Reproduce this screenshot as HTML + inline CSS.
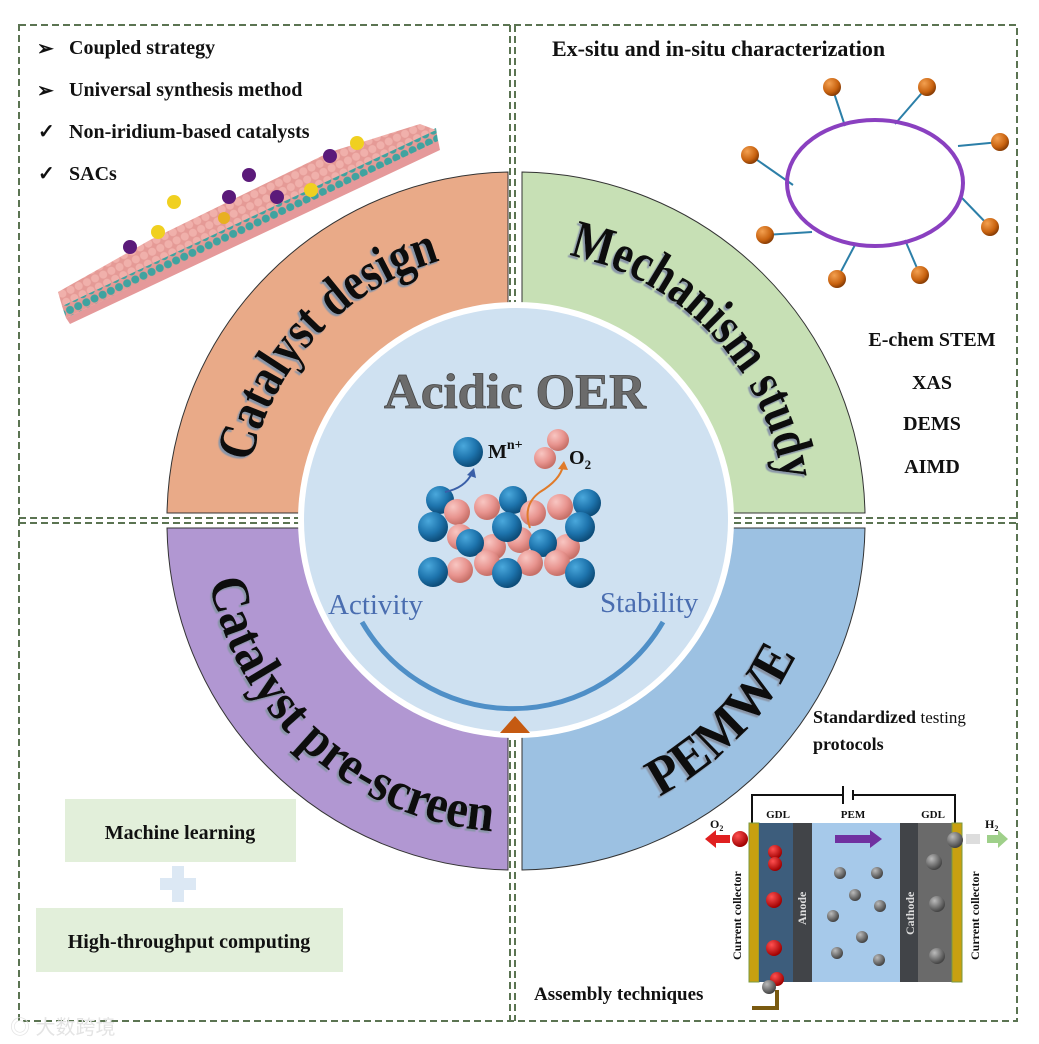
<!DOCTYPE html>
<html><head><meta charset="utf-8"><style>
html,body{margin:0;padding:0;background:#fff;}
svg{display:block;}
.b{font-family:"Liberation Serif",serif;font-weight:bold;}
</style></head><body>
<svg width="1039" height="1044" viewBox="0 0 1039 1044" xmlns="http://www.w3.org/2000/svg">
<defs>
<radialGradient id="gb" cx="35%" cy="30%" r="70%"><stop offset="0" stop-color="#4aa8dc"/><stop offset="0.6" stop-color="#1e74ad"/><stop offset="1" stop-color="#0d4d7a"/></radialGradient>
<radialGradient id="gp" cx="35%" cy="30%" r="70%"><stop offset="0" stop-color="#f8c6c2"/><stop offset="0.6" stop-color="#e8948f"/><stop offset="1" stop-color="#c77068"/></radialGradient>
<radialGradient id="go" cx="35%" cy="30%" r="70%"><stop offset="0" stop-color="#f3a050"/><stop offset="0.7" stop-color="#c8620f"/><stop offset="1" stop-color="#8a3e05"/></radialGradient>
<radialGradient id="gr" cx="35%" cy="30%" r="70%"><stop offset="0" stop-color="#ff5050"/><stop offset="1" stop-color="#a00000"/></radialGradient>
<radialGradient id="gg" cx="35%" cy="30%" r="70%"><stop offset="0" stop-color="#bbb"/><stop offset="1" stop-color="#444"/></radialGradient>
<pattern id="pk" width="9" height="9" patternUnits="userSpaceOnUse" patternTransform="rotate(-25)"><rect width="9" height="9" fill="#e59a96"/><circle cx="4.5" cy="4.5" r="4" fill="#f0b0ab"/></pattern>
<pattern id="tl" width="9" height="9" patternUnits="userSpaceOnUse" patternTransform="rotate(-25)"><rect width="9" height="9" fill="#e59a96"/><circle cx="4.5" cy="4.5" r="4" fill="#3fa3a0"/></pattern>
<filter id="sh" x="-10%" y="-10%" width="120%" height="120%"><feDropShadow dx="-2" dy="2" stdDeviation="0.6" flood-color="#8a96a8"/></filter>
<path id="up" d="M245,520 A270,270 0 0 1 785,520"/>
<path id="dn" d="M203,520 A312,312 0 0 0 827,520"/>
</defs>

<g fill="none" stroke="#5b7452" stroke-width="2" stroke-dasharray="7,4">
<rect x="19" y="25" width="998" height="996"/>
<line x1="510" y1="25" x2="510" y2="1021"/>
<line x1="515" y1="25" x2="515" y2="1021"/>
<line x1="19" y1="518" x2="1017" y2="518"/>
<line x1="19" y1="523" x2="1017" y2="523"/>
</g>

<g stroke="#333" stroke-width="1">
<path d="M508,172 A348,348 0 0 0 167,513 L300,513 A215,215 0 0 1 508,305 Z" fill="#e9aa88"/>
<path d="M522,172 A348,348 0 0 1 865,513 L733,513 A215,215 0 0 0 522,305 Z" fill="#c7e0b5"/>
<path d="M167,528 A348,348 0 0 0 508,870 L508,735 A215,215 0 0 1 300,528 Z" fill="#b197d2"/>
<path d="M865,528 A348,348 0 0 1 522,870 L522,735 A215,215 0 0 0 733,528 Z" fill="#9cc1e2"/>
</g>
<circle cx="516" cy="520" r="218" fill="#fff"/>
<circle cx="516" cy="520" r="212" fill="#cfe1f1"/>

<g class="b" font-size="54" fill="#111" filter="url(#sh)">
<text><textPath href="#up" startOffset="58" textLength="290" lengthAdjust="spacingAndGlyphs">Catalyst design</textPath></text>
<text><textPath href="#up" startOffset="478" textLength="330" lengthAdjust="spacingAndGlyphs">Mechanism study</textPath></text>
<text><textPath href="#dn" startOffset="62" textLength="405" lengthAdjust="spacingAndGlyphs">Catalyst pre-screen</textPath></text>
<text><textPath href="#dn" startOffset="640" textLength="200" lengthAdjust="spacingAndGlyphs">PEMWE</textPath></text>
</g>

<text x="515" y="408" text-anchor="middle" class="b" font-size="50" fill="#6b6b6b" stroke="#444" stroke-width="0.8" textLength="262" lengthAdjust="spacingAndGlyphs">Acidic OER</text>
<g>
<circle cx="440" cy="500" r="14" fill="url(#gb)"/><circle cx="513" cy="500" r="14" fill="url(#gb)"/><circle cx="587" cy="503" r="14" fill="url(#gb)"/>
<circle cx="457" cy="512" r="13" fill="url(#gp)"/><circle cx="487" cy="507" r="13" fill="url(#gp)"/><circle cx="533" cy="513" r="13" fill="url(#gp)"/><circle cx="560" cy="507" r="13" fill="url(#gp)"/>
<circle cx="460" cy="537" r="13" fill="url(#gp)"/><circle cx="493" cy="547" r="13" fill="url(#gp)"/><circle cx="567" cy="547" r="13" fill="url(#gp)"/><circle cx="520" cy="540" r="13" fill="url(#gp)"/>
<circle cx="470" cy="543" r="14" fill="url(#gb)"/><circle cx="543" cy="543" r="14" fill="url(#gb)"/>
<circle cx="460" cy="570" r="13" fill="url(#gp)"/><circle cx="487" cy="563" r="13" fill="url(#gp)"/><circle cx="530" cy="563" r="13" fill="url(#gp)"/><circle cx="557" cy="563" r="13" fill="url(#gp)"/>
<circle cx="433" cy="527" r="15" fill="url(#gb)"/><circle cx="507" cy="527" r="15" fill="url(#gb)"/><circle cx="580" cy="527" r="15" fill="url(#gb)"/>
<circle cx="433" cy="572" r="15" fill="url(#gb)"/><circle cx="507" cy="573" r="15" fill="url(#gb)"/><circle cx="580" cy="573" r="15" fill="url(#gb)"/>
<circle cx="468" cy="452" r="15" fill="url(#gb)"/>
<circle cx="558" cy="440" r="11" fill="url(#gp)"/><circle cx="545" cy="458" r="11" fill="url(#gp)"/>
<path d="M445,492 Q465,488 472,473" fill="none" stroke="#3a5fa8" stroke-width="2"/><path d="M467,475 L474,468 L476,478 Z" fill="#3a5fa8"/>
<path d="M530,528 Q522,505 540,492 Q560,480 563,466" fill="none" stroke="#e07b2a" stroke-width="2"/><path d="M558,469 L564,461 L568,470 Z" fill="#e07b2a"/>
</g>
<text x="488" y="458" class="b" font-size="20" fill="#111">M<tspan font-size="14" dy="-9">n+</tspan></text>
<text x="569" y="464" class="b" font-size="20" fill="#111">O<tspan font-size="13" dy="5">2</tspan></text>
<text x="328" y="614" font-family="Liberation Serif,serif" font-size="29" fill="#4a6db0">Activity</text>
<text x="600" y="612" font-family="Liberation Serif,serif" font-size="29" fill="#4a6db0">Stability</text>
<path d="M362,622 A174,174 0 0 0 663,622" fill="none" stroke="#4f8fc7" stroke-width="5"/>
<path d="M515,716 L500,733 L530,733 Z" fill="#c55a11"/>

<g class="b" font-size="20" fill="#111">
<text x="37" y="55" font-size="20">➢</text><text x="69" y="54">Coupled strategy</text>
<text x="37" y="97" font-size="20">➢</text><text x="69" y="96">Universal synthesis method</text>
<text x="38" y="138">✓</text><text x="69" y="138">Non-iridium-based catalysts</text>
<text x="38" y="180">✓</text><text x="69" y="180">SACs</text>
</g>
<polygon points="66,318 438,140 440,150 70,324" fill="#e5999a"/>
<polygon points="62,306 436,128 438,141 66,318" fill="url(#tl)"/>
<polygon points="58,292 150,240 330,152 420,124 436,130 62,306" fill="url(#pk)"/>
<g>
<circle cx="130" cy="247" r="7" fill="#5b1a7a"/><circle cx="158" cy="232" r="7" fill="#f0d020"/><circle cx="174" cy="202" r="7" fill="#f0d020"/>
<circle cx="224" cy="218" r="6" fill="#e8b020"/><circle cx="229" cy="197" r="7" fill="#5b1a7a"/><circle cx="249" cy="175" r="7" fill="#5b1a7a"/>
<circle cx="277" cy="197" r="7" fill="#5b1a7a"/><circle cx="311" cy="190" r="7" fill="#f0d020"/><circle cx="330" cy="156" r="7" fill="#5b1a7a"/><circle cx="357" cy="143" r="7" fill="#f0d020"/>
</g>

<text x="552" y="56" class="b" font-size="22" fill="#111">Ex-situ and in-situ characterization</text>
<g stroke="#2c7fa8" stroke-width="2">
<line x1="832" y1="87" x2="845" y2="126"/><line x1="927" y1="87" x2="895" y2="124"/><line x1="1000" y1="142" x2="958" y2="146"/>
<line x1="990" y1="227" x2="962" y2="198"/><line x1="920" y1="275" x2="905" y2="240"/><line x1="837" y1="279" x2="856" y2="243"/>
<line x1="765" y1="235" x2="812" y2="232"/><line x1="750" y1="155" x2="793" y2="185"/>
</g>
<ellipse cx="875" cy="183" rx="88" ry="63" fill="none" stroke="#8a40c0" stroke-width="4"/>
<g fill="url(#go)">
<circle cx="832" cy="87" r="9"/><circle cx="927" cy="87" r="9"/><circle cx="1000" cy="142" r="9"/><circle cx="990" cy="227" r="9"/>
<circle cx="920" cy="275" r="9"/><circle cx="837" cy="279" r="9"/><circle cx="765" cy="235" r="9"/><circle cx="750" cy="155" r="9"/>
</g>
<g class="b" font-size="20" fill="#111" text-anchor="middle">
<text x="932" y="346">E-chem STEM</text><text x="932" y="389">XAS</text><text x="932" y="430">DEMS</text><text x="932" y="473">AIMD</text>
</g>

<rect x="65" y="799" width="231" height="63" fill="#e2efda"/>
<rect x="36" y="908" width="307" height="64" fill="#e2efda"/>
<text x="180" y="839" text-anchor="middle" class="b" font-size="20" fill="#111">Machine learning</text>
<text x="189" y="948" text-anchor="middle" class="b" font-size="20" fill="#111">High-throughput computing</text>
<rect x="172" y="866" width="12" height="36" fill="#dce8f4"/><rect x="160" y="878" width="36" height="12" fill="#dce8f4"/>
<text x="10" y="1034" font-family="Liberation Sans,Noto Sans CJK SC,sans-serif" font-size="20" fill="#e4e4e4">◎ 大数跨境</text>

<text x="813" y="723" class="b" font-size="18" fill="#111">Standardized <tspan font-weight="normal" font-size="17">testing</tspan></text>
<text x="813" y="750" class="b" font-size="18" fill="#111">protocols</text>
<text x="534" y="1000" class="b" font-size="19" fill="#111">Assembly techniques</text>
<path d="M752,823 V795 H843 M853,795 H955 V823" fill="none" stroke="#111" stroke-width="2"/>
<line x1="843" y1="786" x2="843" y2="804" stroke="#111" stroke-width="2"/><line x1="853" y1="790" x2="853" y2="800" stroke="#111" stroke-width="2"/>
<rect x="749" y="823" width="10" height="159" fill="#c8a010" stroke="#7a9a40" stroke-width="1"/>
<rect x="759" y="823" width="34" height="159" fill="#3d5d7c"/>
<rect x="793" y="823" width="19" height="159" fill="#414448"/>
<rect x="812" y="823" width="88" height="159" fill="#a6c9ea"/>
<rect x="900" y="823" width="18" height="159" fill="#414448"/>
<rect x="918" y="823" width="34" height="159" fill="#6a6a6a"/>
<rect x="952" y="823" width="10" height="159" fill="#c8a010" stroke="#7a9a40" stroke-width="1"/>
<g class="b" font-size="11" fill="#111" text-anchor="middle"><text x="778" y="818">GDL</text><text x="853" y="818">PEM</text><text x="933" y="818">GDL</text></g>
<path d="M835,835 H870 V830 L882,839 L870,848 V843 H835 Z" fill="#7030a0"/>
<path d="M730,835 H716 V830 L705,839 L716,848 V843 H730 Z" fill="#e02020"/>
<path d="M987,835 H998 V830 L1008,839 L998,848 V843 H987 Z" fill="#9fd08a"/>
<rect x="966" y="834" width="14" height="10" fill="#ddd"/>
<text x="710" y="828" class="b" font-size="12" fill="#111">O<tspan font-size="8" dy="3">2</tspan></text>
<text x="985" y="828" class="b" font-size="12" fill="#111">H<tspan font-size="8" dy="3">2</tspan></text>
<g fill="url(#gr)"><circle cx="740" cy="839" r="8"/><circle cx="775" cy="852" r="7"/><circle cx="775" cy="864" r="7"/><circle cx="774" cy="900" r="8"/><circle cx="774" cy="948" r="8"/><circle cx="777" cy="979" r="7"/></g>
<g fill="url(#gg)"><circle cx="955" cy="840" r="8"/><circle cx="934" cy="862" r="8"/><circle cx="937" cy="904" r="8"/><circle cx="937" cy="956" r="8"/><circle cx="769" cy="987" r="7"/>
<circle cx="840" cy="873" r="6"/><circle cx="877" cy="873" r="6"/><circle cx="855" cy="895" r="6"/><circle cx="880" cy="906" r="6"/><circle cx="833" cy="916" r="6"/><circle cx="862" cy="937" r="6"/><circle cx="837" cy="953" r="6"/><circle cx="879" cy="960" r="6"/></g>
<path d="M777,990 V1008 H752" fill="none" stroke="#7a5a10" stroke-width="4"/>
<text transform="translate(741,960) rotate(-90)" class="b" font-size="12" fill="#111">Current collector</text>
<text transform="translate(979,960) rotate(-90)" class="b" font-size="12" fill="#111">Current collector</text>
<text transform="translate(806,925) rotate(-90)" class="b" font-size="12" fill="#ddd">Anode</text>
<text transform="translate(914,935) rotate(-90)" class="b" font-size="12" fill="#ddd">Cathode</text>
</svg>
</body></html>
